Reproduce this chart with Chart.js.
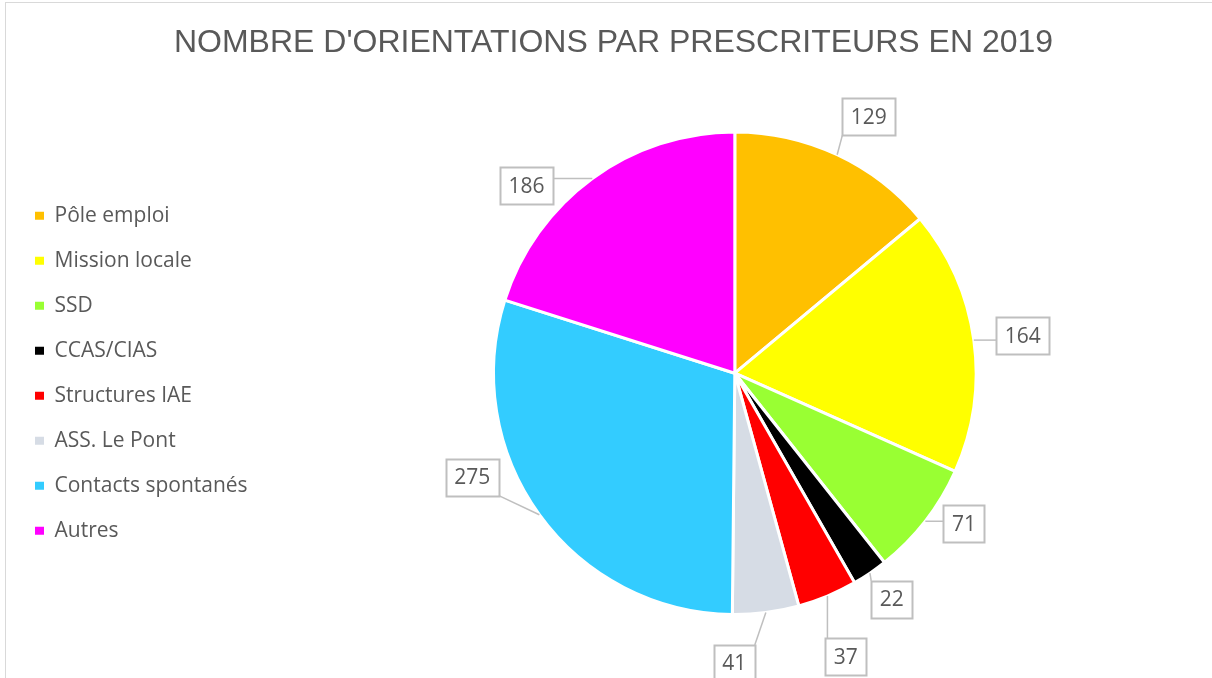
<!DOCTYPE html>
<html lang="fr">
<head>
<meta charset="utf-8">
<title>Nombre d'orientations par prescripteurs en 2019</title>
<script src="https://cdn.jsdelivr.net/npm/chart.js@4.4.1/dist/chart.umd.min.js"></script>
<style>
  html,body{margin:0;padding:0;background:#fff}
  #wrap{position:relative;width:1212px;height:678px;overflow:hidden}
  #frame{position:absolute;left:5px;top:2px;width:1300px;height:800px;border:1px solid #d9d9d9}
  #c{position:absolute;left:0;top:0}
</style>
</head>
<body>
<div id="wrap">
  <div id="frame"></div>
  <canvas id="c" width="1212" height="678"></canvas>
</div>
<script>
// ── données ──
const TITRE = "NOMBRE D'ORIENTATIONS PAR PRESCRITEURS EN 2019";
const prescripteurs = ['Pôle emploi','Mission locale','SSD','CCAS/CIAS','Structures IAE','ASS. Le Pont','Contacts spontanés','Autres'];
const orientations  = [129, 164, 71, 22, 37, 41, 275, 186];

// ── style ──
const couleurs = ['#ffc000','#ffff00','#99ff33','#000000','#ff0000','#d6dce5','#33ccff','#ff00ff'];
const GRIS = '#595959';
const TXT_FONT = "'Open Sans', sans-serif";

// Etiquettes encadrees (callouts) avec trait de rappel
// da = decalage d'angle (deg), dr = distance au bord du camembert
const calloutPlugin = {
  id: 'callouts',
  afterDatasetsDraw(chart, args, opts){
    const ctx = chart.ctx;
    const meta = chart.getDatasetMeta(0);
    const vals = chart.data.datasets[0].data;
    ctx.save();
    ctx.font = opts.font;
    ctx.textAlign = 'center';
    ctx.textBaseline = 'middle';
    meta.data.forEach((arc, i)=>{
      const p = arc.getProps(['x','y','startAngle','endAngle','outerRadius'], true);
      const mid = (p.startAngle + p.endAngle)/2;
      const lay = opts.layout[i] || {};
      const a = mid + (lay.da||0)*Math.PI/180;
      const d = p.outerRadius + (lay.dr||45);
      const cx = p.x + d*Math.cos(a), cy = p.y + d*Math.sin(a);
      const txt = String(vals[i]);
      const w = ctx.measureText(txt).width + 2*opts.padX, h = opts.boxH;
      const bx = cx - w/2, by = cy - h/2;

      // trait de rappel : du bord de la part vers le cadre
      const px = p.x + p.outerRadius*Math.cos(mid), py = p.y + p.outerRadius*Math.sin(mid);
      const qx = Math.min(Math.max(px, bx), bx+w), qy = Math.min(Math.max(py, by), by+h);
      ctx.strokeStyle = opts.lineColor;
      ctx.lineWidth = 1.5;
      ctx.beginPath(); ctx.moveTo(px, py); ctx.lineTo(qx, qy); ctx.stroke();

      ctx.lineWidth = 2;
      ctx.strokeRect(Math.round(bx)+0.5, Math.round(by)+0.5, Math.round(w), Math.round(h));
      ctx.fillStyle = opts.color;
      ctx.fillText(txt, cx, cy+1);
    });
    ctx.restore();
  }
};

// Legende centree verticalement sur le camembert
const legendCentre = {
  id: 'legendCentre',
  afterLayout(chart){
    const lg = chart.legend, ca = chart.chartArea;
    if(!lg || !ca) return;
    const dy = (ca.top + ca.bottom)/2 - (lg.top + lg.bottom)/2;
    lg.top += dy; lg.bottom += dy;
  }
};

new Chart(document.getElementById('c'), {
  type: 'pie',
  data: {
    labels: prescripteurs,
    datasets: [{
      data: orientations,
      backgroundColor: couleurs,
      borderColor: '#ffffff',
      borderWidth: 3,
      hoverOffset: 0
    }]
  },
  options: {
    responsive: false,
    animation: false,
    events: [],
    layout: { padding: { left: 11, right: -4, top: 0, bottom: 62 } },
    plugins: {
      title: {
        display: true, text: TITRE, color: GRIS,
        font: { family: "'Liberation Sans', Arial, sans-serif", size: 32, weight: 'normal' },
        padding: { top: 24, bottom: 68 }
      },
      legend: {
        position: 'left',
        labels: {
          color: GRIS,
          font: { family: TXT_FONT, size: 21 },
          boxWidth: 9, boxHeight: 8, padding: 24,
          generateLabels: ch => Chart.overrides.pie.plugins.legend.labels.generateLabels(ch)
            .map(l => ({...l, lineWidth: 0, strokeStyle: l.fillStyle}))
        }
      },
      tooltip: { enabled: false },
      callouts: {
        font: "21px " + TXT_FONT,
        color: GRIS, lineColor: '#bfbfbf', padX: 8.5, boxH: 37,
        layout: [
          {da: 2.5,  dr: 48},
          {da: 0.5,  dr: 49},
          {da: -4.5, dr: 33},
          {da: -0.7, dr: 34},
          {da: 1.2,  dr: 63},
          {da: 7.5,  dr: 49},
          {da: 14.3, dr: 41},
          {da: -11.8,dr: 39}
        ]
      }
    }
  },
  plugins: [calloutPlugin, legendCentre]
});
</script>
</body>
</html>
